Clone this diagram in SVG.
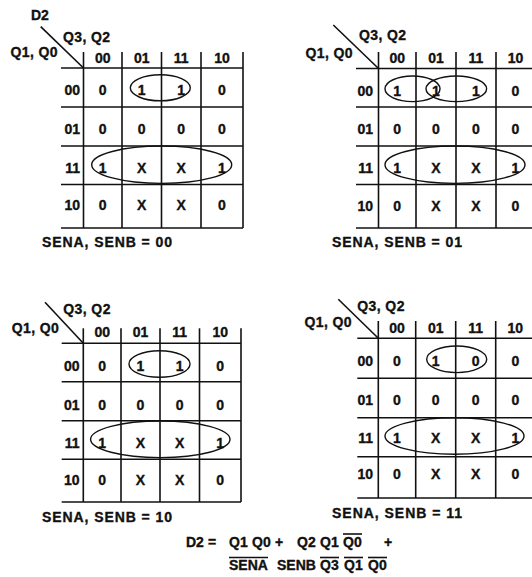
<svg xmlns="http://www.w3.org/2000/svg" width="532" height="577" viewBox="0 0 532 577">
<style>
text{font-family:"Liberation Sans",Arial,sans-serif;font-weight:bold;font-size:14px;fill:#111;stroke:#111;stroke-width:0.35}
.c{text-anchor:middle}
.r{text-anchor:end}
.q{letter-spacing:0.4px}
.g line{stroke:#111;stroke-width:1.6}
ellipse{fill:none;stroke:#111;stroke-width:1.4}
.ov{stroke:#111;stroke-width:1.6}
</style>
<rect width="532" height="577" fill="#fff"/>

<g id="map1">
<text x="31" y="20">D2</text>
<text x="63" y="41.5" class="q">Q3, Q2</text>
<text x="58" y="57" class="r q">Q1, Q0</text>
<g class="g">
<line x1="40.7" y1="26.7" x2="83.5" y2="68"/>
<line x1="83.5" y1="52" x2="83.5" y2="228"/>
<line x1="122" y1="52" x2="122" y2="228"/>
<line x1="161.5" y1="52" x2="161.5" y2="228"/>
<line x1="201" y1="52" x2="201" y2="228"/>
<line x1="243" y1="52" x2="243" y2="228"/>
<line x1="61" y1="68" x2="243" y2="68"/>
<line x1="61" y1="107" x2="243" y2="107"/>
<line x1="61" y1="146" x2="243" y2="146"/>
<line x1="61" y1="184.5" x2="243" y2="184.5"/>
<line x1="61" y1="228" x2="243" y2="228"/>
</g>
<text x="102.75" y="63" class="c">00</text><text x="141.75" y="63" class="c">01</text><text x="181.25" y="63" class="c">11</text><text x="222" y="63" class="c">10</text>
<text x="80" y="95" class="r">00</text><text x="80" y="134" class="r">01</text><text x="80" y="173" class="r">11</text><text x="80" y="210" class="r">10</text>
<text x="102.75" y="95" class="c">0</text><text x="141.75" y="95" class="c">1</text><text x="181.25" y="95" class="c">1</text><text x="222" y="95" class="c">0</text>
<text x="102.75" y="134" class="c">0</text><text x="141.75" y="134" class="c">0</text><text x="181.25" y="134" class="c">0</text><text x="222" y="134" class="c">0</text>
<text x="102.75" y="173" class="c">1</text><text x="141.75" y="173" class="c">X</text><text x="181.25" y="173" class="c">X</text><text x="222" y="173" class="c">1</text>
<text x="102.75" y="210" class="c">0</text><text x="141.75" y="210" class="c">X</text><text x="181.25" y="210" class="c">X</text><text x="222" y="210" class="c">0</text>
<ellipse cx="160.3" cy="87.8" rx="30" ry="13"/>
<ellipse cx="161.7" cy="164.7" rx="70" ry="18.7"/>
<text x="42" y="247" textLength="130" lengthAdjust="spacing">SENA, SENB = 00</text>
</g>

<g id="map2">
<text x="359" y="39.5" class="q">Q3, Q2</text>
<text x="353" y="57.5" class="r q">Q1, Q0</text>
<g class="g">
<line x1="333.3" y1="25" x2="378.5" y2="68.5"/>
<line x1="378.5" y1="52" x2="378.5" y2="228"/>
<line x1="416" y1="52" x2="416" y2="228"/>
<line x1="456" y1="52" x2="456" y2="228"/>
<line x1="496" y1="52" x2="496" y2="228"/>
<line x1="356" y1="68.5" x2="532" y2="68.5"/>
<line x1="356" y1="107" x2="532" y2="107"/>
<line x1="356" y1="146" x2="532" y2="146"/>
<line x1="356" y1="184.5" x2="532" y2="184.5"/>
<line x1="356" y1="228" x2="532" y2="228"/>
</g>
<text x="397.25" y="63" class="c">00</text><text x="436" y="63" class="c">01</text><text x="476" y="63" class="c">11</text><text x="515.5" y="63" class="c">10</text>
<text x="373" y="95.5" class="r">00</text><text x="373" y="134" class="r">01</text><text x="373" y="173" class="r">11</text><text x="373" y="210.5" class="r">10</text>
<text x="397.25" y="95.5" class="c">1</text><text x="436" y="95.5" class="c">1</text><text x="476" y="95.5" class="c">1</text><text x="515.5" y="95.5" class="c">0</text>
<text x="397.25" y="134" class="c">0</text><text x="436" y="134" class="c">0</text><text x="476" y="134" class="c">0</text><text x="515.5" y="134" class="c">0</text>
<text x="397.25" y="173" class="c">1</text><text x="436" y="173" class="c">X</text><text x="476" y="173" class="c">X</text><text x="515.5" y="173" class="c">1</text>
<text x="397.25" y="210.5" class="c">0</text><text x="436" y="210.5" class="c">X</text><text x="476" y="210.5" class="c">X</text><text x="515.5" y="210.5" class="c">0</text>
<ellipse cx="412.5" cy="88.8" rx="27.5" ry="12.8"/>
<ellipse cx="456.3" cy="88.8" rx="30.3" ry="12.8"/>
<ellipse cx="455" cy="164.7" rx="70" ry="18.7"/>
<text x="332" y="247" textLength="130" lengthAdjust="spacing">SENA, SENB = 01</text>
</g>

<g id="map3">
<text x="63.3" y="314" class="q">Q3, Q2</text>
<text x="59.3" y="333.3" class="r q">Q1, Q0</text>
<g class="g">
<line x1="45" y1="302.3" x2="83.3" y2="343.3"/>
<line x1="83.3" y1="328.3" x2="83.3" y2="502"/>
<line x1="121" y1="328.3" x2="121" y2="502"/>
<line x1="160" y1="328.3" x2="160" y2="502"/>
<line x1="199.5" y1="328.3" x2="199.5" y2="502"/>
<line x1="241" y1="328.3" x2="241" y2="502"/>
<line x1="61.7" y1="343.3" x2="241" y2="343.3"/>
<line x1="61.7" y1="381.7" x2="241" y2="381.7"/>
<line x1="61.7" y1="420.7" x2="241" y2="420.7"/>
<line x1="61.7" y1="459.3" x2="241" y2="459.3"/>
<line x1="61.7" y1="502" x2="241" y2="502"/>
</g>
<text x="102.2" y="337" class="c">00</text><text x="140.5" y="337" class="c">01</text><text x="179.75" y="337" class="c">11</text><text x="220.25" y="337" class="c">10</text>
<text x="79.5" y="370.5" class="r">00</text><text x="79.5" y="409.5" class="r">01</text><text x="79.5" y="448" class="r">11</text><text x="79.5" y="485" class="r">10</text>
<text x="102.2" y="370.5" class="c">0</text><text x="140.5" y="370.5" class="c">1</text><text x="179.75" y="370.5" class="c">1</text><text x="220.25" y="370.5" class="c">0</text>
<text x="102.2" y="409.5" class="c">0</text><text x="140.5" y="409.5" class="c">0</text><text x="179.75" y="409.5" class="c">0</text><text x="220.25" y="409.5" class="c">0</text>
<text x="102.2" y="448" class="c">1</text><text x="140.5" y="448" class="c">X</text><text x="179.75" y="448" class="c">X</text><text x="220.25" y="448" class="c">1</text>
<text x="102.2" y="485" class="c">0</text><text x="140.5" y="485" class="c">X</text><text x="179.75" y="485" class="c">X</text><text x="220.25" y="485" class="c">0</text>
<ellipse cx="159.5" cy="364" rx="30.5" ry="13.3"/>
<ellipse cx="160.3" cy="439.3" rx="69.7" ry="18.3"/>
<text x="42" y="522" textLength="130" lengthAdjust="spacing">SENA, SENB = 10</text>
</g>

<g id="map4">
<text x="357.3" y="310.7" class="q">Q3, Q2</text>
<text x="352" y="326.7" class="r q">Q1, Q0</text>
<g class="g">
<line x1="338.3" y1="299.3" x2="378.3" y2="338.3"/>
<line x1="378.3" y1="321" x2="378.3" y2="498"/>
<line x1="415.7" y1="321" x2="415.7" y2="498"/>
<line x1="455.7" y1="321" x2="455.7" y2="498"/>
<line x1="495.7" y1="321" x2="495.7" y2="498"/>
<line x1="357.3" y1="338.3" x2="532" y2="338.3"/>
<line x1="357.3" y1="378.3" x2="532" y2="378.3"/>
<line x1="357.3" y1="417.7" x2="532" y2="417.7"/>
<line x1="357.3" y1="456.7" x2="532" y2="456.7"/>
<line x1="357.3" y1="498" x2="532" y2="498"/>
</g>
<text x="397" y="333" class="c">00</text><text x="435.7" y="333" class="c">01</text><text x="475.7" y="333" class="c">11</text><text x="515.3" y="333" class="c">10</text>
<text x="373" y="366" class="r">00</text><text x="373" y="405" class="r">01</text><text x="373" y="443" class="r">11</text><text x="373" y="479" class="r">10</text>
<text x="397" y="366" class="c">0</text><text x="435.7" y="366" class="c">1</text><text x="475.7" y="366" class="c">0</text><text x="515.3" y="366" class="c">0</text>
<text x="397" y="405" class="c">0</text><text x="435.7" y="405" class="c">0</text><text x="475.7" y="405" class="c">0</text><text x="515.3" y="405" class="c">0</text>
<text x="397" y="443" class="c">1</text><text x="435.7" y="443" class="c">X</text><text x="475.7" y="443" class="c">X</text><text x="515.3" y="443" class="c">1</text>
<text x="397" y="479" class="c">0</text><text x="435.7" y="479" class="c">X</text><text x="475.7" y="479" class="c">X</text><text x="515.3" y="479" class="c">0</text>
<ellipse cx="456.7" cy="359.3" rx="30" ry="13.3"/>
<ellipse cx="454.5" cy="436" rx="69.5" ry="18.3"/>
<text x="332" y="518" textLength="130" lengthAdjust="spacing">SENA, SENB = 11</text>
</g>

<g id="equation">
<text x="186" y="547">D2</text>
<text x="208" y="547">=</text>
<text x="229" y="547">Q1</text>
<text x="252" y="547">Q0</text>
<text x="275" y="547">+</text>
<text x="297" y="547">Q2</text>
<text x="320" y="547">Q1</text>
<text x="343" y="547">Q0</text>
<text x="384" y="547">+</text>
<text x="229" y="570">SENA</text>
<text x="277" y="570">SENB</text>
<text x="320" y="570">Q3</text>
<text x="344" y="570">Q1</text>
<text x="368" y="570">Q0</text>
<line class="ov" x1="343" y1="534" x2="362" y2="534"/>
<line class="ov" x1="229" y1="557.5" x2="268" y2="557.5"/>
<line class="ov" x1="320" y1="557.5" x2="339" y2="557.5"/>
<line class="ov" x1="344" y1="557.5" x2="363" y2="557.5"/>
<line class="ov" x1="368" y1="557.5" x2="387" y2="557.5"/>
</g>
</svg>
